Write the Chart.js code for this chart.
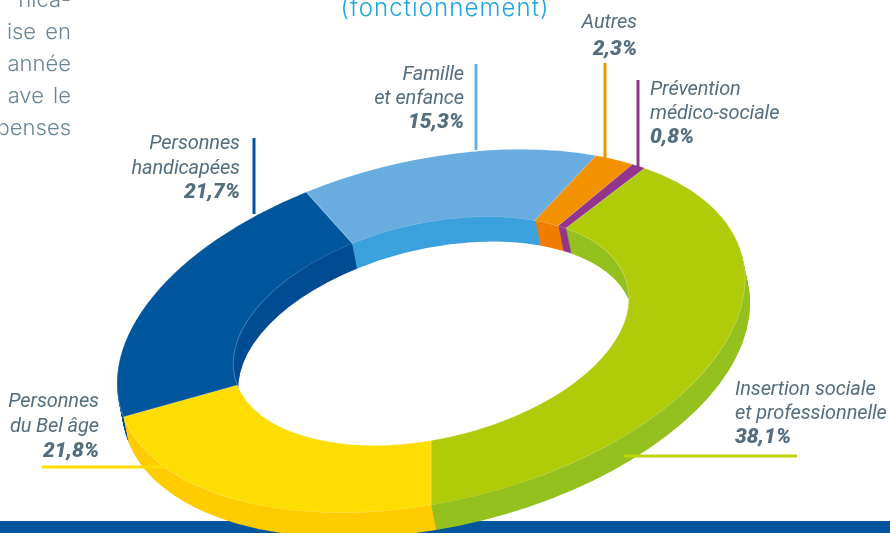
<!DOCTYPE html>
<html>
<head>
<meta charset="utf-8">
<style>
  html, body { margin: 0; background: #fff; overflow: hidden; }
  canvas { display: block; }
</style>
<script src="https://cdn.jsdelivr.net/npm/chart.js@4"></script>
</head>
<body>
<canvas id="myChart" width="890" height="533"></canvas>
<script>
const categories = [
  ['Insertion sociale', 'et professionnelle'],
  ['Personnes', 'du Bel âge'],
  ['Personnes', 'handicapées'],
  ['Famille', 'et enfance'],
  ['Autres'],
  ['Prévention', 'médico-sociale']
];
const values = [38.1, 21.8, 21.7, 15.3, 2.3, 0.8];
const topColors = ['#b0cb0a', '#ffdd00', '#00569d', '#69ade0', '#f39200', '#93358d'];
const wallColors = ['#95c11f', '#ffcc00', '#004c93', '#3ca1de', '#f07d00', '#93358d'];
const introLines = ['nica-', 'ise en', 'année', 'ave le', 'penses'];
const subtitle = '(fonctionnement)';

// label anchor, alignment and leader line for each slice, same order as categories
const callouts = [
  { x: 735, y: 395, step: 24, align: 'left', line: [624, 456, 797, 456], color: '#bbd20c' },
  { x: 99, y: 407, step: 25, align: 'right', line: [42, 467, 165, 467], color: '#ffdd00' },
  { x: 240, y: 149, step: 24.5, align: 'right', line: [254, 138, 254, 214], color: '#00569d' },
  { x: 464, y: 80, step: 24, align: 'right', line: [476, 64, 476, 150], color: '#69ade0' },
  { x: 637, y: 28, step: 27, align: 'right', line: [605, 63, 605, 158], color: '#f39200' },
  { x: 650, y: 95, step: 24, align: 'left', line: [638, 80, 638, 168], color: '#93358d' }
];

const RADIUS = 200;
const textColor = '#546e7f';

// squash the flat ring into the tilted ellipse of the picture
function applyTilt(ctx, chart, dx, dy) {
  const k = 1 / RADIUS;
  ctx.translate(431 + dx, 331 + dy);
  ctx.transform(0, 174 * k, -314 * k, 52 * k, 0, 0);
  ctx.translate(-chart.width / 2, -chart.height / 2);
}

const tilt = {
  id: 'tilt',
  beforeDatasetsDraw(chart) {
    const ctx = chart.ctx;
    const arcs = chart.getDatasetMeta(0).data;

    // the band at the bottom sits behind the ring
    ctx.fillStyle = '#00569d';
    ctx.fillRect(0, 521, 890, 12);

    // thickness: the same ring repeated downwards in the darker colours
    for (let i = 25; i >= 1; i--) {
      ctx.save();
      applyTilt(ctx, chart, i * 0.2, i);
      arcs.forEach((arc, n) => {
        const ghost = Object.create(arc);
        ghost.options = { ...arc.options, backgroundColor: wallColors[n], borderWidth: 0 };
        ghost.draw(ctx);
      });
      ctx.restore();
    }
    ctx.save();
    applyTilt(ctx, chart, 0, 0);
  },
  afterDatasetsDraw(chart) {
    chart.ctx.restore();
  },
  afterDraw(chart) {
    const ctx = chart.ctx;
    ctx.save();

    callouts.forEach(c => {
      ctx.strokeStyle = c.color;
      ctx.lineWidth = 3;
      ctx.beginPath();
      ctx.moveTo(c.line[0], c.line[1]);
      ctx.lineTo(c.line[2], c.line[3]);
      ctx.stroke();
    });

    ctx.fillStyle = textColor;
    categories.forEach((lines, i) => {
      const c = callouts[i];
      ctx.textAlign = c.align;
      ctx.letterSpacing = '-0.12px';
      ctx.font = 'italic 20px Roboto';
      lines.forEach((t, n) => ctx.fillText(t, c.x, c.y + n * c.step));
      ctx.letterSpacing = '0px';
      ctx.font = 'italic 900 21px Roboto';
      ctx.fillText(values[i].toFixed(1).replace('.', ',') + '%', c.x, c.y + lines.length * c.step);
    });

    ctx.textAlign = 'right';
    ctx.font = '300 22px Inter';
    ctx.wordSpacing = '3px';
    ctx.fillStyle = '#6b8596';
    introLines.forEach((t, n) => ctx.fillText(t, 71, 7 + n * 32));
    ctx.wordSpacing = '0px';

    ctx.textAlign = 'center';
    ctx.font = '300 24px Inter';
    ctx.letterSpacing = '1.1px';
    ctx.fillStyle = '#1fa6de';
    ctx.fillText(subtitle, 445, 16);

    ctx.restore();
  }
};

new Chart(document.getElementById('myChart').getContext('2d'), {
  type: 'doughnut',
  data: {
    labels: categories.map(c => c.join(' ')),
    datasets: [{
      data: values,
      backgroundColor: topColors,
      borderColor: 'rgba(255,255,255,0.3)',
      borderWidth: 0.6,
      clip: false
    }]
  },
  options: {
    responsive: false,
    animation: false,
    radius: RADIUS,
    cutout: '63%',
    rotation: 90 - values[0] * 3.6,
    plugins: {
      legend: { display: false },
      tooltip: { enabled: false }
    }
  },
  plugins: [tilt]
});
</script>
</body>
</html>
